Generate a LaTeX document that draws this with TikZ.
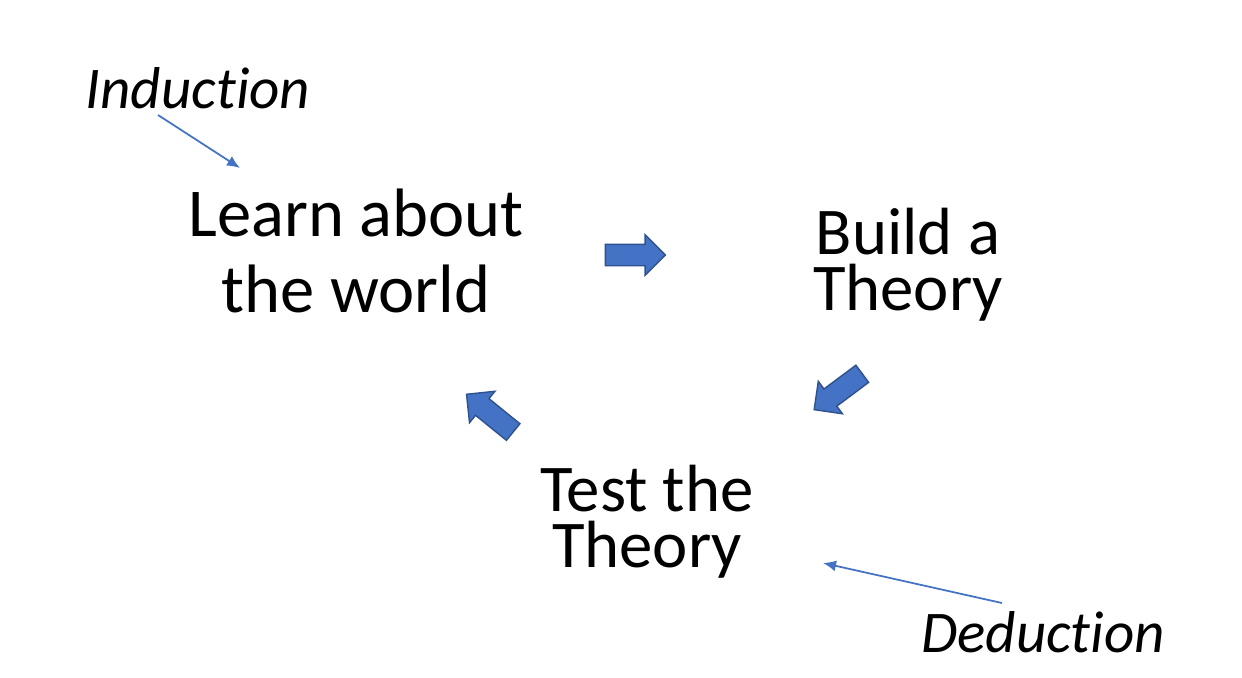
\documentclass[tikz,border=0pt]{standalone}
\usepackage{fontspec}
\setmainfont{Carlito}[Ligatures=NoCommon]
\usepackage{xcolor}
\usetikzlibrary{shapes.arrows,arrows.meta}
\definecolor{color_fill}{HTML}{4472C4}
\definecolor{color_line}{HTML}{2F528F}
\begin{document}
\begin{tikzpicture}[
		bigtext/.style={align=center, inner sep=0pt, font=\fontsize{19.5}{21.5}\selectfont},
		tighttext/.style={align=center, inner sep=0pt, font=\fontsize{19}{16}\selectfont},
		sidetext/.style={anchor=base, inner sep=0pt, font=\fontsize{16.8}{19}\selectfont\itshape},
		blockarrow/.style={single arrow, fill=color_fill, draw=color_line, line width=0.4pt,
			inner xsep=0pt, inner ysep=0.1cm, minimum height=0.6cm, single arrow head extend=0.095cm},
		thinarrow/.style={color_fill, line width=0.5pt, -{Latex[length=1.3mm,width=1.1mm]}}
	]
	% Fond
	\fill[white] (0,0) rectangle (12.42,6.77);
	\useasboundingbox (0,0) rectangle (12.42,6.77);
	
	% Les trois etapes
	\node[bigtext] (learn) at (3.56,4.26) {Learn about\\the world};
	\node[tighttext] (build) at (9.08,4.12) {Build a\\Theory};
	\node[tighttext] (test) at (6.47,1.55) {Test the\\Theory};
	
	% Fleches pleines
	\node[blockarrow] (arrowone) at (6.30,4.22) {};
	\node[blockarrow, rotate=216.7] (arrowtwo) at (8.425,2.885) {};
	\node[blockarrow, rotate=141] (arrowthree) at (4.94,2.605) {};
	
	% Annotations
	\node[sidetext] (induction) at (1.98,5.69) {Induction};
	\node[sidetext] (deduction) at (10.43,0.25) {Deduction};
	\coordinate (indstart) at (1.58,5.62);
	\coordinate (indend) at (2.40,5.09);
	\coordinate (dedstart) at (10.02,0.74);
	\coordinate (dedend) at (8.23,1.14);
	\draw[thinarrow] (indstart) -- (indend);
	\draw[thinarrow] (dedstart) -- (dedend);
\end{tikzpicture}
\end{document}
